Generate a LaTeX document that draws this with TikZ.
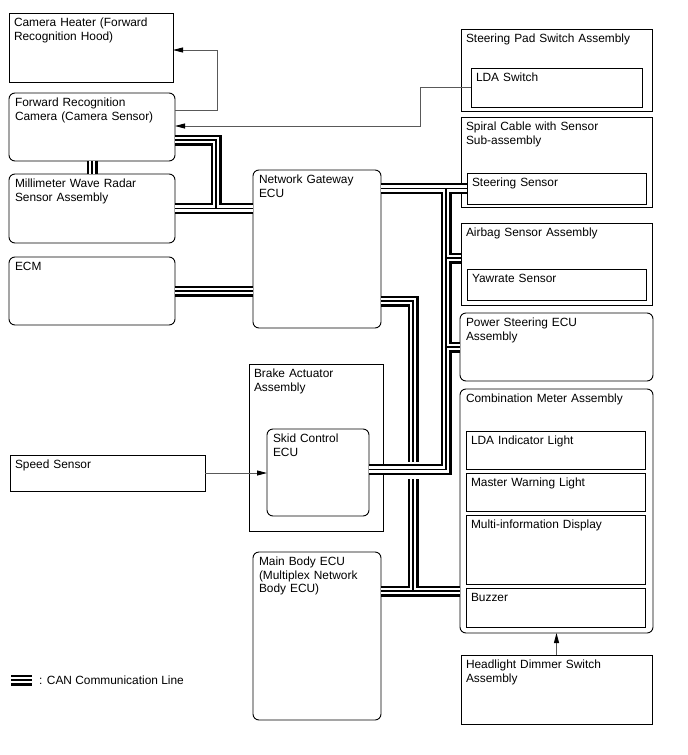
\documentclass[tikz,border=0pt]{standalone}
\usepackage{fontspec}
\setmainfont{Liberation Sans}
\usetikzlibrary{arrows.meta, positioning}

\begin{document}
\begin{tikzpicture}[
    x=1pt, y=-1pt,
    unit/.style 2 args={draw, line width=0.9pt, anchor=north west,
                        outer sep=0pt, align=left,
                        inner xsep=5pt, inner ysep=4pt,
                        text width=#1-10pt, text height=9.5pt,
                        text depth=#2-17.5pt,
                        font=\fontsize{11.9}{13.5}\selectfont},
    soft/.style={rounded corners=6pt, inner xsep=6pt},
    can/.style={line width=11pt, draw=black,
                postaction={draw=white, line width=6.6pt},
                postaction={draw=black, line width=1.8pt}},
    sig/.style={draw=black!65, line width=0.9pt,
                -{Triangle[length=10pt, width=5pt, color=black]}},
  ]
  \useasboundingbox (0,0) rectangle (688,755);

  % left column
  \node[unit={164pt}{69pt}] (heater) at (9,13)
       {Camera Heater (Forward\\Recognition Hood)};
  \node[unit={164pt}{68pt}, soft] (camera) at (9,93)
       {Forward Recognition\\Camera (Camera Sensor)};
  \node[unit={164pt}{69pt}, soft, below=13pt of camera] (radar)
       {Millimeter Wave Radar\\Sensor Assembly};
  \node[unit={164pt}{68pt}, soft, below=14pt of radar] (ecm) {ECM};
  \node[unit={195pt}{36pt}] (speed) at (10,455) {Speed Sensor};

  % middle column
  \node[unit={126pt}{158pt}, soft] (gw) at (253,170) {Network Gateway\\ECU};
  \node[unit={134pt}{167pt}] (brake) at (249,364) {Brake Actuator\\Assembly};
  \node[unit={100pt}{87pt}, soft, below right=65pt and 18pt of brake.north west]
       (skid) {Skid Control\\ECU};
  \node[unit={126pt}{168pt}, soft] (body) at (253,552)
       {Main Body ECU\\(Multiplex Network\\Body ECU)};

  % right column
  \node[unit={191pt}{82pt}] (pad) at (461,29) {Steering Pad Switch Assembly};
  \node[unit={171pt}{39pt}, below right=39pt and 10pt of pad.north west]
       (ldasw) {LDA Switch};
  \node[unit={191pt}{90pt}, below=6pt of pad] (spiral)
       {Spiral Cable with Sensor\\Sub-assembly};
  \node[unit={179pt}{31pt}, below right=56pt and 6pt of spiral.north west]
       (steer) {Steering Sensor};
  \node[unit={191pt}{82pt}, below=16pt of spiral] (airbag)
       {Airbag Sensor Assembly};
  \node[unit={179pt}{31pt}, below right=46pt and 6pt of airbag.north west]
       (yaw) {Yawrate Sensor};
  \node[unit={191pt}{68pt}, soft, below=8pt of airbag] (pst)
       {Power Steering ECU\\Assembly};
  \node[unit={191pt}{244pt}, soft, below=8pt of pst] (meter)
       {Combination Meter Assembly};
  \node[unit={179pt}{38pt}, below right=42pt and 6pt of meter.north west]
       (lind) {LDA Indicator Light};
  \node[unit={179pt}{38pt}, below=4pt of lind] (mwl) {Master Warning Light};
  \node[unit={179pt}{69pt}, below=4pt of mwl] (mid) {Multi-information Display};
  \node[unit={179pt}{39pt}, below=4pt of mid] (buzz) {Buzzer};
  \node[unit={191pt}{69pt}, below=22pt of meter] (head)
       {Headlight Dimmer Switch\\Assembly};

  % CAN lines
  \draw[can]
    (camera.south) -- (radar.north)
    ([yshift=-13pt]camera.east) -| (216,208.5)
    (radar.east) -- (radar.east -| gw.west)
    (ecm.east) -- (ecm.east -| gw.west)
    (steer.west -| gw.east) -- (steer.west)
    (steer.west -| 446,0) |- ([yshift=3pt]skid.east)
    ([yshift=6pt]airbag.west -| 446,0) -- ([yshift=6pt]airbag.west)
    (pst.west -| 446,0) -- (pst.west)
    ([yshift=27pt]gw.south east) -| (413,462)
    (413,479) -- (413,591)
    (body.east |- 0,591) -- (meter.west |- 0,591);

  % signal lines
  \draw[sig] (camera.east |- 0,110) -| (217,50) -- (heater.east |- 0,50);
  \draw[sig] (ldasw.west) -| (420,126) -- (camera.east |- 0,126);
  \draw[sig] (speed.east) -- (speed.east -| skid.west);
  \draw[sig] (head.north) -- (meter.south);

  % legend
  \node[anchor=west, inner sep=0pt, font=\fontsize{11.9}{13.5}\selectfont]
       (legend) at (39,680) {: CAN Communication Line};
  \coordinate (lgs) at (11,680);
  \draw[can] (lgs) -- ([xshift=-7pt]legend.west);
\end{tikzpicture}
\end{document}
